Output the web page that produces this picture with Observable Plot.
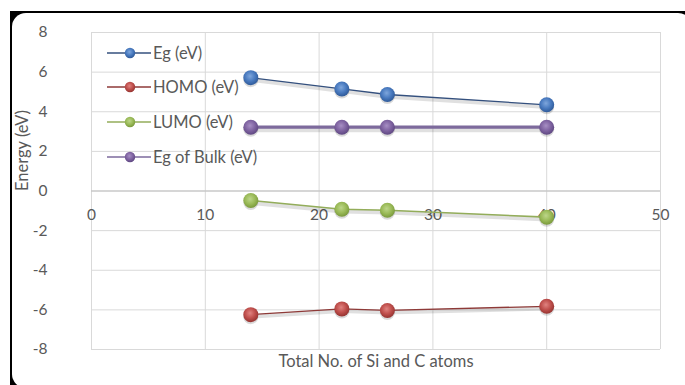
<!DOCTYPE html>
<html>
<head>
<meta charset="utf-8">
<script src="https://cdn.jsdelivr.net/npm/d3@7"></script>
<script src="https://cdn.jsdelivr.net/npm/@observablehq/plot@0.6"></script>
<style>
  html, body { margin: 0; padding: 0; background: #fff; }
  #wrap { position: relative; width: 685px; height: 385px; overflow: hidden; }
  #back { position: absolute; left: 10px; top: 11px; width: 675px; height: 374px; background: #000; }
  #card { position: absolute; left: 12px; top: 13px; width: 680px; height: 375px; background: #fff; border-radius: 14px; }
  #chart { position: absolute; left: 0; top: 0; }
  #legend { position: absolute; left: 0; top: 0; font-family: Lato, "Liberation Sans", Arial, sans-serif; font-size: 16.5px; color: #595959; }
  .lg { position: absolute; height: 20px; display: flex; align-items: center; white-space: nowrap; }
  .lg svg { display: block; }
  .lg span { margin-left: 2px; }
</style>
</head>
<body>
<div id="wrap">
  <div id="back"></div>
  <div id="card"></div>
  <div id="chart"></div>
  <div id="legend"></div>
</div>
<script>
// Data
const atoms = [14, 22, 26, 40];
const egValues = [5.72, 5.15, 4.87, 4.35];
const homoValues = [-6.24, -5.95, -6.03, -5.82];
const lumoValues = [-0.48, -0.92, -0.97, -1.32];
const bulkValues = [3.22, 3.22, 3.22, 3.22];
const seriesNames = ["Eg (eV)", "HOMO (eV)", "LUMO (eV)", "Eg of Bulk (eV)"];
const xTicks = [0, 10, 20, 30, 40, 50];
const yTicks = [-8, -6, -4, -2, 0, 2, 4, 6, 8];
const xTitle = "Total No. of Si and C atoms";
const yTitle = "Energy (eV)";

const styles = [
  {id: "g0", dot: "#4a7bc0", light: "#7ea6dc", dark: "#2f5a99", line: "#34507e", width: 1.3},
  {id: "g1", dot: "#c0504d", light: "#e08380", dark: "#963431", line: "#8e3a38", width: 1.3},
  {id: "g2", dot: "#9bbb59", light: "#bdd68a", dark: "#7a9a3c", line: "#93ad5a", width: 1.6},
  {id: "g3", dot: "#8064a2", light: "#a78fc4", dark: "#5f4882", line: "#7d6a9c", width: 3.2}
];
const allValues = [egValues, homoValues, lumoValues, bulkValues];
const rows = [];
allValues.forEach((vals, s) => atoms.forEach((a, i) => rows.push({series: seriesNames[s], s, x: a, y: vals[i]})));

const marks = [
  Plot.gridY(yTicks, {stroke: "#d9d9d9", strokeOpacity: 1}),
  Plot.gridX(xTicks, {stroke: "#d9d9d9", strokeOpacity: 1}),
  Plot.ruleY([0], {stroke: "#bfbfbf", strokeWidth: 1.2}),
  Plot.axisY(yTicks, {tickSize: 0, tickPadding: 44, fontSize: 15.5, fill: "#595959", label: null, tickFormat: d => String(d)}),
  Plot.text(xTicks, {x: d => d, y: 0, dy: 24, text: d => String(d), fontSize: 15.5, fill: "#595959"}),
  Plot.text([xTitle], {frameAnchor: "bottom", dy: 17, text: d => d, fontSize: 16.5, fill: "#595959"}),
  Plot.text([yTitle], {frameAnchor: "left", dx: -69, rotate: -90, text: d => d, fontSize: 16.5, fill: "#595959"})
];
// soft shadow under each line
styles.forEach((st, s) => {
  const data = rows.filter(r => r.s === s);
  marks.push(Plot.line(data, {x: "x", y: "y", stroke: "#000", strokeOpacity: 0.12, strokeWidth: st.width + 3, dy: 2}));
});
styles.forEach((st, s) => {
  const data = rows.filter(r => r.s === s);
  marks.push(Plot.line(data, {x: "x", y: "y", stroke: st.line, strokeWidth: st.width}));
});
styles.forEach((st, s) => {
  const data = rows.filter(r => r.s === s);
  marks.push(Plot.dot(data, {x: "x", y: "y", r: 7.5, fill: "#000", fillOpacity: 0.15, dy: 2, stroke: "none"}));
  marks.push(Plot.dot(data, {x: "x", y: "y", r: 7.5, fill: `url(#${st.id})`, stroke: "none"}));
});

const svg = Plot.plot({
  width: 685,
  height: 385,
  marginLeft: 91,
  marginRight: 25,
  marginTop: 32,
  marginBottom: 36,
  style: {background: "transparent", fontFamily: "Lato, 'Liberation Sans', Arial, sans-serif", color: "#595959"},
  x: {domain: [0, 50], axis: null},
  y: {domain: [-8, 8]},
  marks
});

// gradients
const sel = d3.select(svg);
const defs = sel.insert("defs", ":first-child");
styles.forEach(st => {
  const g = defs.append("radialGradient").attr("id", st.id).attr("cx", "45%").attr("cy", "40%").attr("r", "60%");
  g.append("stop").attr("offset", "0%").attr("stop-color", st.light);
  g.append("stop").attr("offset", "55%").attr("stop-color", st.dot);
  g.append("stop").attr("offset", "100%").attr("stop-color", st.dark);
});

document.getElementById("chart").appendChild(svg);

// legend
const legendY = [53, 87, 122, 157];
const leg = document.getElementById("legend");
styles.forEach((st, i) => {
  const div = document.createElement("div");
  div.className = "lg";
  div.style.left = "107px";
  div.style.top = (legendY[i] - 10) + "px";
  div.innerHTML = `<svg width="44" height="20"><defs><radialGradient id="l${st.id}" cx="45%" cy="40%" r="60%"><stop offset="0%" stop-color="${st.light}"/><stop offset="55%" stop-color="${st.dot}"/><stop offset="100%" stop-color="${st.dark}"/></radialGradient></defs><line x1="0" x2="44" y1="10" y2="10" stroke="${st.line}" stroke-width="1.3"/><circle cx="23" cy="10" r="5.2" fill="url(#l${st.id})"/></svg><span>${seriesNames[i]}</span>`;
  leg.appendChild(div);
});
</script>
</body>
</html>
